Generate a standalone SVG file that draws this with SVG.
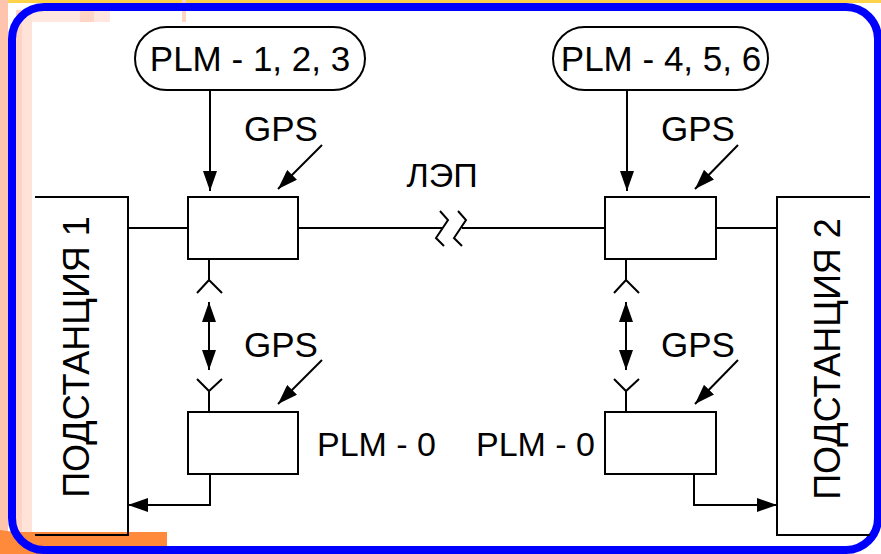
<svg xmlns="http://www.w3.org/2000/svg" width="881" height="554" viewBox="0 0 881 554">
<style>
.ln{stroke:#000;stroke-width:2;fill:none}
.bx{stroke:#000;stroke-width:2;fill:#fff}
.t{font-family:"Liberation Sans",Arial,sans-serif;font-size:34px;fill:#000}
.tp{font-family:"Liberation Sans",Arial,sans-serif;font-size:35px;fill:#000}
.sub{font-family:"Liberation Sans",Arial,sans-serif;font-size:36px;fill:#000}
.ar{marker-end:url(#ah)}
</style>
<defs>
<marker id="ah" viewBox="0 0 20 14" refX="20" refY="7" markerWidth="20" markerHeight="14" markerUnits="userSpaceOnUse" orient="auto-start-reverse">
<path d="M0,0 L20,7 L0,14 z" fill="#000"/>
</marker>
</defs>
<rect x="0" y="0" width="881" height="554" fill="#fff"/>
<rect x="0" y="0" width="881" height="3" fill="#FFD24A"/>
<rect x="0" y="0" width="8" height="554" fill="#FFC4AE"/>
<rect x="16" y="10" width="6" height="530" fill="#FFD4C4"/>
<rect x="22" y="10" width="10" height="530" fill="#FFE2D8"/>
<rect x="32" y="10" width="78" height="12" fill="#FFE6DE"/>
<rect x="80" y="10" width="14" height="12" fill="#FFD4C4"/>
<rect x="182" y="0" width="4" height="22" fill="#FFD4C4"/>
<path d="M0,530 L14,532 L40,532 L167,532 L167,554 L0,554 z" fill="#FF8A3C"/>
<rect x="12" y="7" width="866" height="543" rx="32" fill="none" stroke="#0000FF" stroke-width="8"/>
<g id="connectors">
<path class="ln ar" d="M210,90 V191"/>
<path class="ln ar" d="M627,90 V191"/>
<path class="ln ar" d="M322,145 L278,189"/>
<path class="ln ar" d="M738,145 L695,189"/>
<path class="ln ar" d="M322,360 L278,404"/>
<path class="ln ar" d="M738,360 L695,404"/>
<path class="ln" d="M128,228 H188"/>
<path class="ln" d="M298,228 H443"/>
<path class="ln" d="M462,228 H605"/>
<path class="ln" d="M716,228 H777"/>
<path class="ln" d="M440,211 L448,220 L436,238 L444,246"/>
<path class="ln" d="M458,211 L466,220 L454,238 L462,246"/>
<path class="ln" d="M209,259 V280 M197,293 L209,280 L222,293"/>
<path class="ln" d="M209,302 V370" style="marker-start:url(#ah);marker-end:url(#ah)"/>
<path class="ln" d="M197,379 L209,391 L222,379 M209,391 V412"/>
<path class="ln" d="M626,259 V280 M614,293 L626,280 L639,293"/>
<path class="ln" d="M626,302 V370" style="marker-start:url(#ah);marker-end:url(#ah)"/>
<path class="ln" d="M614,379 L626,391 L639,379 M626,391 V412"/>
<path class="ln ar" d="M210,474 V505 H128"/>
<path class="ln ar" d="M694,474 V505 H777"/>
</g>
<g id="sub1">
<path class="ln" d="M35,197 H128 V535 H35"/>
<text class="sub" transform="translate(89,357) rotate(-90)" text-anchor="middle">ПОДСТАНЦИЯ 1</text>
</g>
<g id="sub2">
<path class="ln" d="M870,197 H777 V535 H870"/>
<text class="sub" transform="translate(840,359) rotate(-90)" text-anchor="middle">ПОДСТАНЦИЯ 2</text>
</g>
<g id="plm123">
<rect class="bx" x="135" y="27" width="230" height="63" rx="31.5"/>
<text class="tp" x="250" y="71" text-anchor="middle">PLM - 1, 2, 3</text>
</g>
<g id="plm456">
<rect class="bx" x="553" y="27" width="215" height="63" rx="31.5"/>
<text class="tp" x="661" y="71" text-anchor="middle">PLM - 4, 5, 6</text>
</g>
<g id="box1"><rect class="bx" x="188" y="197" width="110" height="62"/></g>
<g id="box2"><rect class="bx" x="605" y="197" width="111" height="62"/></g>
<g id="box3"><rect class="bx" x="188" y="412" width="110" height="62"/></g>
<g id="box4"><rect class="bx" x="605" y="412" width="111" height="62"/></g>
<g id="labels">
<text class="tp" x="281" y="141" text-anchor="middle">GPS</text>
<text class="tp" x="698" y="141" text-anchor="middle">GPS</text>
<text class="tp" x="281" y="357" text-anchor="middle">GPS</text>
<text class="tp" x="698" y="357" text-anchor="middle">GPS</text>
<text class="t" x="442" y="187" text-anchor="middle">ЛЭП</text>
<text class="t" x="317" y="456">PLM - 0</text>
<text class="t" x="595" y="456" text-anchor="end">PLM - 0</text>
</g>
</svg>
